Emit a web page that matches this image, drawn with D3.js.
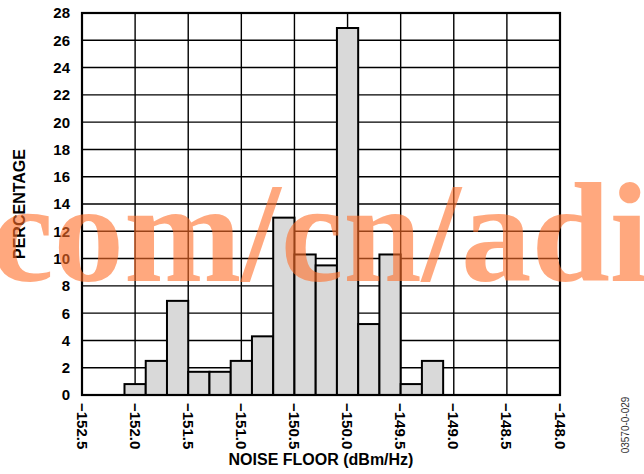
<!DOCTYPE html>
<html>
<head>
<meta charset="utf-8">
<script src="https://cdn.jsdelivr.net/npm/d3@7"></script>
<style>
  body { margin: 0; background: #fff; }
  svg { display: block; }
</style>
</head>
<body>
<svg id="chart" width="644" height="474"></svg>
<script>
// histogram bins (left edge, dBm/Hz) and percentage per bin
const binStart = [-152.1, -151.9, -151.7, -151.5, -151.3, -151.1, -150.9, -150.7,
                  -150.5, -150.3, -150.1, -149.9, -149.7, -149.5, -149.3];
const percent = [0.8, 2.5, 6.9, 1.7, 1.7, 2.5, 4.3, 13.0, 10.3, 9.5, 26.9, 5.2, 10.3, 0.8, 2.5];
const binWidth = 0.2;
const xTicks = [-152.5, -152.0, -151.5, -151.0, -150.5, -150.0, -149.5, -149.0, -148.5, -148.0];
const yTicks = [0, 2, 4, 6, 8, 10, 12, 14, 16, 18, 20, 22, 24, 26, 28];

const margin = { left: 82, right: 84, top: 13, bottom: 79 };
const W = 644, H = 474;

const svg = d3.select("#chart");
const xScale = d3.scaleLinear().domain([-152.5, -148.0]).range([margin.left, W - margin.right]);
const yScale = d3.scaleLinear().domain([0, 28]).range([H - margin.bottom, margin.top]);
const fmt = d3.format(".1f");

// grid
svg.append("g").selectAll("line").data(xTicks).join("line")
    .attr("x1", d => xScale(d)).attr("x2", d => xScale(d))
    .attr("y1", yScale(0)).attr("y2", yScale(28))
    .attr("stroke", "#000").attr("stroke-width", 1.4);
svg.append("g").selectAll("line").data(yTicks).join("line")
    .attr("y1", d => yScale(d)).attr("y2", d => yScale(d))
    .attr("x1", xScale(-152.5)).attr("x2", xScale(-148.0))
    .attr("stroke", "#000").attr("stroke-width", 1.4);

// bars
svg.append("g").selectAll("rect").data(binStart).join("rect")
    .attr("x", d => xScale(d))
    .attr("width", d => xScale(d + binWidth) - xScale(d))
    .attr("y", (d, i) => yScale(percent[i]))
    .attr("height", (d, i) => yScale(0) - yScale(percent[i]))
    .attr("fill", "#d9d9d9").attr("stroke", "#000").attr("stroke-width", 2);

// frame
svg.append("rect")
    .attr("x", xScale(-152.5)).attr("y", yScale(28))
    .attr("width", xScale(-148.0) - xScale(-152.5))
    .attr("height", yScale(0) - yScale(28))
    .attr("fill", "none").attr("stroke", "#000").attr("stroke-width", 2.2);

const font = "'Liberation Sans', Arial, sans-serif";

// y tick labels
svg.append("g").selectAll("text").data(yTicks).join("text")
    .attr("x", 70).attr("y", d => yScale(d))
    .attr("dy", "0.36em")
    .attr("text-anchor", "end")
    .style("font", "bold 15px " + font)
    .text(d => d);

// x tick labels, rotated
svg.append("g").selectAll("text").data(xTicks).join("text")
    .attr("transform", d => `translate(${xScale(d)},403) rotate(90)`)
    .attr("dy", "0.36em")
    .attr("text-anchor", "start")
    .style("font", "bold 15px " + font)
    .text(d => fmt(d));

// axis titles
svg.append("text")
    .attr("transform", `translate(25,${(yScale(0) + yScale(28)) / 2}) rotate(-90)`)
    .attr("text-anchor", "middle")
    .style("font", "bold 16px " + font)
    .text("PERCENTAGE");
svg.append("text")
    .attr("x", (xScale(-152.5) + xScale(-148.0)) / 2).attr("y", 465)
    .attr("text-anchor", "middle")
    .style("font", "bold 16px " + font)
    .text("NOISE FLOOR (dBm/Hz)");

// figure code
svg.append("text")
    .attr("transform", "translate(629,425) rotate(-90)")
    .attr("text-anchor", "middle")
    .style("font", "10px " + font)
    .attr("fill", "#333")
    .text("03570-0-029");

// watermark
svg.append("text")
    .attr("x", -9).attr("y", 281)
    .style("font", "bold 141px 'Liberation Serif', 'Times New Roman', serif")
    .attr("fill", "rgb(255,110,40)").attr("fill-opacity", 0.6)
    .text("com/cn/adi");
</script>
</body>
</html>
